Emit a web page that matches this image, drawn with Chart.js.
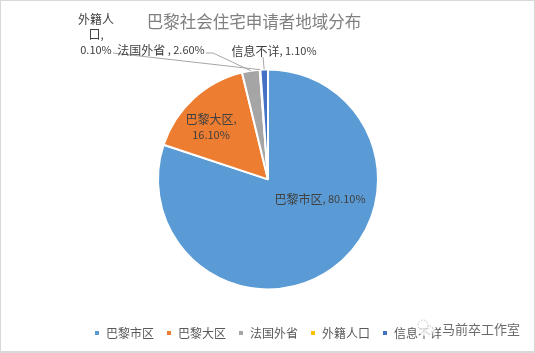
<!DOCTYPE html>
<html>
<head>
<meta charset="utf-8">
<script src="https://cdn.jsdelivr.net/npm/chart.js@4/dist/chart.umd.min.js"></script>
<style>
  html, body { margin: 0; padding: 0; background: #fff; overflow: hidden; }
  #wrap { position: relative; width: 535px; height: 353px; }
  #wrap::after { content: ""; position: absolute; inset: 0; border: 1px solid #d9d9d9; border-bottom-width: 2px; box-sizing: border-box; pointer-events: none; }
  canvas { display: block; }
</style>
</head>
<body>
<div id="wrap"><canvas id="pie" width="535" height="353"></canvas></div>
<script>
const categories = ["巴黎市区", "巴黎大区", "法国外省", "外籍人口", "信息不详"];
const shares = [80.1, 16.1, 2.6, 0.1, 1.1];
const colors = ["#5b9bd5", "#ed7d31", "#a5a5a5", "#ffc000", "#4472c4"];
const chartTitle = "巴黎社会住宅申请者地域分布";
const watermark = "马前卒工作室";

const cjk = '"Noto Sans CJK SC", "Noto Sans", sans-serif';

// label text lines + where they sit, and the leader line if there is one
const labelPlacement = [
  { x: 320, y: 199, lines: ["巴黎市区, 80.10%"] },
  { x: 211, y: 119, lines: ["巴黎大区,", "16.10%"] },
  { x: 161, y: 50, lines: ["法国外省 , 2.60%"], leader: [[206, 53], [213, 53]] },
  { x: 96, y: 19, lines: ["外籍人", "口,", "0.10%"], leader: [[113, 53]] },
  { x: 274, y: 51, lines: ["信息不详, 1.10%"], leader: [[263, 57]] }
];

// Chinese at 12px, digits a bit smaller like the original
function drawMixed(ctx, text, cx, cy) {
  const runs = text.match(/[\u4e00-\u9fff]+|[^\u4e00-\u9fff]+/g);
  const fontOf = (run) => (/[\u4e00-\u9fff]/.test(run) ? "12px " : "11px ") + cjk;
  let total = 0;
  runs.forEach((run) => {
    ctx.font = fontOf(run);
    total += ctx.measureText(run).width;
  });
  let x = cx - total / 2;
  ctx.textAlign = "left";
  runs.forEach((run) => {
    ctx.font = fontOf(run);
    ctx.fillText(run, x, cy);
    x += ctx.measureText(run).width;
  });
}

const sliceLabels = {
  id: "sliceLabels",
  afterLayout(chart) {
    // title sits left of the pie centre in the original
    chart.titleBlock.left -= 28;
  },
  afterDatasetsDraw(chart) {
    const ctx = chart.ctx;
    const arcs = chart.getDatasetMeta(0).data;
    ctx.save();
    // leader lines go to the outer edge of the slice
    ctx.strokeStyle = "#a6a6a6";
    ctx.lineWidth = 1;
    labelPlacement.forEach((p, i) => {
      if (!p.leader) return;
      const arc = arcs[i];
      const mid = (arc.startAngle + arc.endAngle) / 2;
      ctx.beginPath();
      p.leader.forEach((pt, k) => {
        if (k === 0) ctx.moveTo(pt[0], pt[1]);
        else ctx.lineTo(pt[0], pt[1]);
      });
      ctx.lineTo(arc.x + Math.cos(mid) * arc.outerRadius, arc.y + Math.sin(mid) * arc.outerRadius);
      ctx.stroke();
    });
    ctx.fillStyle = "#404040";
    ctx.textBaseline = "middle";
    labelPlacement.forEach((p) => {
      p.lines.forEach((line, k) => {
        drawMixed(ctx, line, p.x, p.y + k * 15.5);
      });
    });
    ctx.restore();
  },
  afterDraw(chart) {
    // the wechat mark sits on top of the legend
    const ctx = chart.ctx;
    ctx.save();
    ctx.fillStyle = "rgba(255, 255, 255, 0.8)";
    ctx.beginPath();
    ctx.arc(426, 328, 8, 0, Math.PI * 2);
    ctx.fill();
    ctx.strokeStyle = "#bdbdbd";
    ctx.setLineDash([1.5, 1.5]);
    ctx.beginPath();
    ctx.arc(423, 325, 5, 0, Math.PI * 2);
    ctx.stroke();
    ctx.beginPath();
    ctx.arc(430, 330, 4, 0, Math.PI * 2);
    ctx.stroke();
    ctx.fillStyle = "rgba(80, 80, 80, 0.85)";
    ctx.font = "13px " + cjk;
    ctx.textAlign = "left";
    ctx.textBaseline = "middle";
    ctx.shadowColor = "#ffffff";
    ctx.shadowBlur = 2;
    ctx.fillText(watermark, 442, 329);
    ctx.restore();
  }
};

new Chart(document.getElementById("pie").getContext("2d"), {
  type: "pie",
  data: {
    labels: categories,
    datasets: [
      {
        data: shares,
        backgroundColor: colors,
        borderColor: "#ffffff",
        borderWidth: 2,
        radius: 110
      }
    ]
  },
  options: {
    responsive: false,
    animation: false,
    layout: { padding: { top: 12, bottom: 4, left: 1, right: 0 } },
    plugins: {
      tooltip: { enabled: false },
      title: {
        display: true,
        text: chartTitle,
        color: "#7f7f7f",
        font: { size: 16.5, weight: "normal", family: cjk },
        padding: { top: 0, bottom: 12 }
      },
      legend: {
        position: "bottom",
        labels: {
          boxWidth: 6,
          boxHeight: 6,
          padding: 12,
          color: "#595959",
          font: { size: 12, family: cjk }
        }
      }
    }
  },
  plugins: [sliceLabels]
});
</script>
</body>
</html>
